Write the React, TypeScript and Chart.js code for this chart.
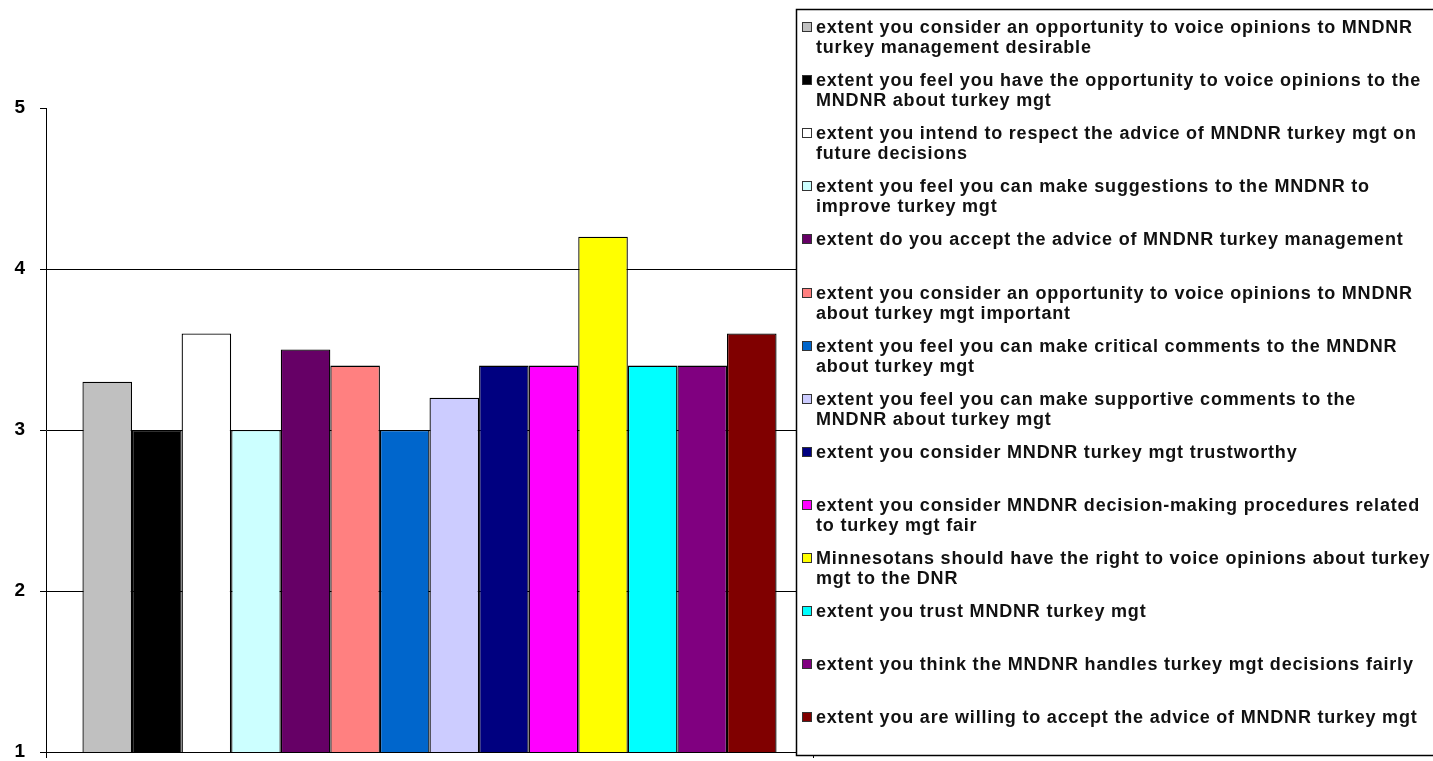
import React, { useEffect, useRef } from "react";
import { Chart, registerables } from "chart.js";

Chart.register(...registerables);

const categories = [""];

const seriesLabels: string[][] = [
  ["extent you consider an opportunity to voice opinions to MNDNR", "turkey management desirable"],
  ["extent you feel you have the opportunity to voice opinions to the", "MNDNR about turkey mgt"],
  ["extent you intend to respect the advice of MNDNR turkey mgt on", "future decisions"],
  ["extent you feel you can make suggestions to the MNDNR to", "improve turkey mgt"],
  ["extent do you accept the advice of MNDNR turkey management"],
  ["extent you consider an opportunity to voice opinions to MNDNR", "about turkey mgt important"],
  ["extent you feel you can make critical comments to the MNDNR", "about turkey mgt"],
  ["extent you feel you can make supportive comments to the", "MNDNR about turkey mgt"],
  ["extent you consider MNDNR turkey mgt trustworthy"],
  ["extent you consider MNDNR decision-making procedures related", "to turkey mgt fair"],
  ["Minnesotans should have the right to voice opinions about turkey", "mgt to the DNR"],
  ["extent you trust MNDNR turkey mgt"],
  ["extent you think the MNDNR handles turkey mgt decisions fairly"],
  ["extent you are willing to accept the advice of MNDNR turkey mgt"],
];

const seriesValues = [3.3, 3.0, 3.6, 3.0, 3.5, 3.4, 3.0, 3.2, 3.4, 3.4, 4.2, 3.4, 3.4, 3.6];

const seriesColors = [
  "#C0C0C0", "#000000", "#FFFFFF", "#CCFFFF", "#660066", "#FF8080", "#0066CC",
  "#CCCCFF", "#000080", "#FF00FF", "#FFFF00", "#00FFFF", "#800080", "#800000",
];

const yMin = 1;
const yMax = 5;
const yStep = 1;

const FONT = "'Liberation Sans', Arial, sans-serif";

const boxLegend = {
  id: "boxLegend",
  afterDraw(chart: any) {
    const ctx: CanvasRenderingContext2D = chart.ctx;
    const x0 = 796.5, y0 = 9.5, x1 = 1450, y1 = 755.5;
    ctx.save();
    ctx.fillStyle = "#ffffff";
    ctx.fillRect(x0, y0, x1 - x0, y1 - y0);
    ctx.strokeStyle = "#000000";
    ctx.lineWidth = 1.5;
    ctx.strokeRect(x0, y0, x1 - x0, y1 - y0);
    ctx.font = `bold 18px ${FONT}`;
    (ctx as any).letterSpacing = "0.8px";
    ctx.textBaseline = "alphabetic";
    ctx.textAlign = "left";
    seriesLabels.forEach((lines, i) => {
      const base = Math.round(33 + i * 53.1);
      ctx.fillStyle = seriesColors[i];
      ctx.fillRect(802.5, base - 10.5, 9, 9);
      ctx.lineWidth = 1;
      ctx.strokeStyle = "#333333";
      ctx.strokeRect(802.5, base - 10.5, 9, 9);
      ctx.fillStyle = "#111111";
      lines.forEach((ln, j) => ctx.fillText(ln, 816, base + j * 20));
    });
    ctx.restore();
  },
};

export default function App() {
  const canvasRef = useRef<HTMLCanvasElement | null>(null);

  useEffect(() => {
    document.body.style.margin = "0";
    const canvas = canvasRef.current;
    if (!canvas) return;
    const chart = new Chart(canvas, {
      type: "bar",
      data: {
        labels: categories,
        datasets: seriesLabels.map((lines, i) => ({
          label: lines.join(" "),
          data: [seriesValues[i]],
          backgroundColor: seriesColors[i],
          borderColor: "#000000",
          borderWidth: 1.3,
          barPercentage: 1,
          categoryPercentage: 0.905,
        })),
      },
      options: {
        responsive: true,
        maintainAspectRatio: false,
        animation: false,
        layout: { padding: { top: 108, right: 620, bottom: 3, left: 0 } },
        plugins: {
          legend: { display: false },
          tooltip: { enabled: false },
          title: { display: false },
        },
        scales: {
          x: {
            grid: {
              offset: true,
              drawOnChartArea: false,
              drawTicks: true,
              tickLength: 6,
              color: "#000000",
            },
            border: { display: true, color: "#000000", width: 1 },
            ticks: { display: false },
            afterFit: (s: any) => {
              s.height = 6;
              s.paddingLeft = 0;
              s.paddingRight = 0;
              s.paddingTop = 0;
              s.paddingBottom = 0;
            },
          },
          y: {
            min: yMin,
            max: yMax,
            ticks: {
              stepSize: yStep,
              color: "#000000",
              font: { family: FONT, size: 19, weight: "bold" },
              padding: 15,
            },
            grid: {
              color: (c: any) => (c.tick && c.tick.value === yMax ? "rgba(0,0,0,0)" : "#000000"),
              tickColor: "#000000",
              tickLength: 6,
              lineWidth: 1,
            },
            border: { display: true, color: "#000000", width: 1 },
            afterFit: (s: any) => {
              s.width = 46;
              s.paddingTop = 0;
              s.paddingBottom = 0;
            },
          },
        },
      },
      plugins: [boxLegend],
    });
    return () => chart.destroy();
  }, []);

  return (
    <div style={{ position: "absolute", left: 0, top: 0, width: 1433, height: 761, background: "#fff" }}>
      <canvas ref={canvasRef} />
    </div>
  );
}
